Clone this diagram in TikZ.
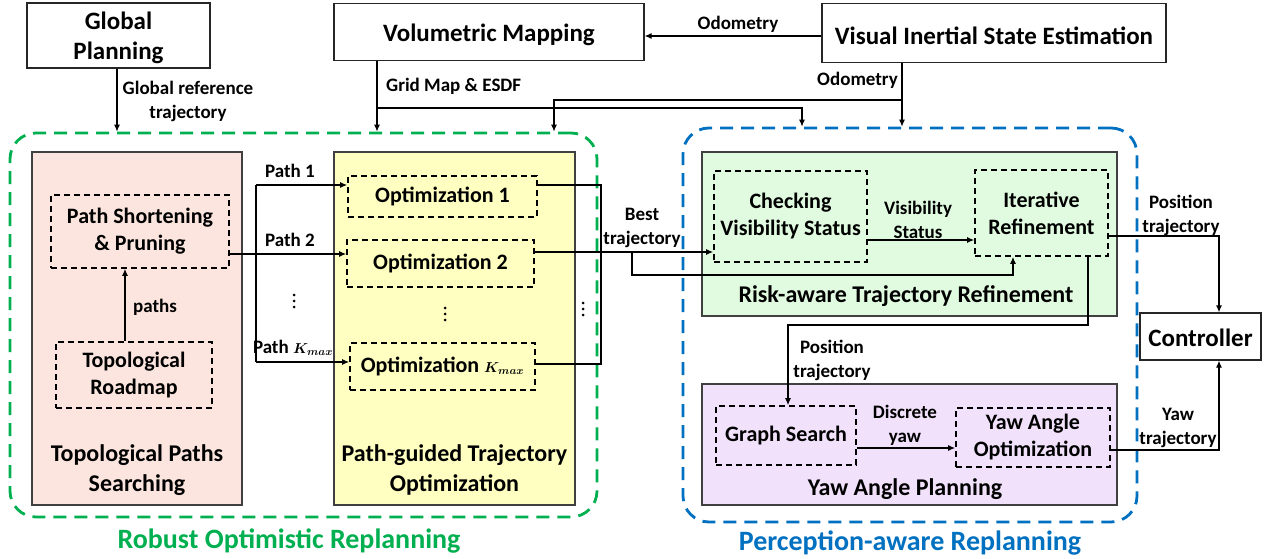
\documentclass[tikz,border=0pt]{standalone}
\usepackage{fontspec}
\usepackage{bm}
\setmainfont{Carlito}
\usetikzlibrary{arrows.meta}
\definecolor{gline}{HTML}{00B050}
\definecolor{bline}{HTML}{0070C0}
\definecolor{pinkf}{HTML}{FBE5DE}
\definecolor{yelf}{HTML}{FFFFC1}
\definecolor{grnf}{HTML}{E0FBE0}
\definecolor{purf}{HTML}{F2E1FA}
\newcommand{\kmax}{{\fontsize{15}{15}\selectfont$\bm{K_{max}}$}}
\begin{document}
\begin{tikzpicture}[x=1pt,y=-1pt,
  big/.style={font=\fontsize{25}{30}\selectfont\bfseries, align=center},
  ttl/.style={font=\fontsize{24}{30}\selectfont\bfseries, align=center},
  inn/.style={font=\fontsize{22}{27}\selectfont\bfseries, align=center},
  lbl/.style={font=\fontsize{19}{24}\selectfont\bfseries, align=center, inner sep=0pt},
  sbox/.style={draw=black!85, line width=1.3pt, inner sep=0pt},
  panel/.style={draw=black!75, line width=1.3pt, inner sep=0pt},
  dbox/.style={draw=black, line width=1.8pt, dash pattern=on 6pt off 4pt, inner sep=0pt},
  outer/.style={line width=2.8pt, dash pattern=on 13pt off 8pt, rounded corners=26pt, inner sep=0pt},
  arr/.style={line width=1.1pt, -{Latex[length=7pt,width=6pt]}},
  ln/.style={line width=1.1pt}]
\useasboundingbox (0,0) rectangle (1266,559);
\fill[white] (0,0) rectangle (1266,559);

% top boxes
\node[sbox, minimum width=183, minimum height=65] (gp) at (118.5,35.5) {};
\node[big] (gpt) at (118.5,38) {Global\\Planning};
\node[sbox, big, minimum width=310, minimum height=57] (vm) at (489,32) {\rule{0pt}{23.5pt}Volumetric Mapping};
\node[sbox, big, minimum width=344, minimum height=59] (vise) at (994,33) {\rule{0pt}{23.5pt}Visual Inertial State Estimation};

% outer dashed groups
\node[outer, draw=gline, minimum width=587, minimum height=384] (rob) at (303.5,325) {};
\node[outer, draw=bline, minimum width=454, minimum height=394] (per) at (910,325) {};
\node[font=\fontsize{28}{32}\selectfont\bfseries, text=gline] (robl) at (289,541) {Robust Optimistic Replanning};
\node[font=\fontsize{28}{32}\selectfont\bfseries, text=bline] (perl) at (910,543) {Perception-aware Replanning};

% panels
\node[panel, fill=pinkf, minimum width=210, minimum height=353] (pink) at (137,328.5) {};
\node[panel, fill=yelf, minimum width=241, minimum height=353] (yel) at (454.5,328.5) {};
\node[ttl] (pinkt) at (137,470) {Topological Paths\\Searching};
\node[ttl] (yelt) at (454.5,470) {Path-guided Trajectory\\Optimization};
\node[panel, fill=grnf, minimum width=415, minimum height=164] (risk) at (909.5,234) {};
\node[panel, fill=purf, minimum width=415, minimum height=121] (yap) at (909.5,444.5) {};
\node[ttl] (riskt) at (906,296) {Risk-aware Trajectory Refinement};
\node[ttl] (yapt) at (905,489) {Yaw Angle Planning};

% inner dashed boxes
\node[dbox, inn, minimum width=178, minimum height=73] (psp) at (140,231.5) {Path Shortening\\\& Pruning};
\node[dbox, inn, minimum width=156, minimum height=66] (trm) at (134,375) {Topological\\Roadmap};
\node[dbox, inn, minimum width=189, minimum height=41] (opt1) at (442.5,196.5) {Optimization 1};
\node[dbox, inn, minimum width=187, minimum height=47] (opt2) at (440.5,263.5) {Optimization 2};
\node[dbox, inn, minimum width=185, minimum height=47] (optk) at (442.5,366.5) {Optimization \kmax};
\node[dbox, inn, minimum width=153, minimum height=91] (cvs) at (790.5,216.5) {Checking\\Visibility Status};
\node[dbox, inn, minimum width=133, minimum height=86] (itr) at (1041.5,213) {Iterative\\Refinement};
\node[dbox, inn, minimum width=140, minimum height=59] (gs) at (786,435.5) {Graph Search};
\node[dbox, inn, minimum width=154, minimum height=59] (yao) at (1033,437.5) {Yaw Angle\\Optimization};
\node[sbox, big, minimum width=121, minimum height=47] (ctrl) at (1200.5,336.5) {\rule{0pt}{20pt}Controller};

% coordinates
\coordinate (odl) at (0,36);
\coordinate (gpx) at (117,0);
\coordinate (gm) at (377,108);
\coordinate (gmb) at (802,0);
\coordinate (od) at (902,100);
\coordinate (odg) at (554,0);
\coordinate (px) at (125,0);
\coordinate (pf) at (256,254);
\coordinate (p1) at (256,185);
\coordinate (pk) at (256,362);
\coordinate (rc) at (601,0);
\coordinate (pk2) at (0,364);
\coordinate (bt) at (0,252);
\coordinate (bb) at (632,275);
\coordinate (bx) at (1013,0);
\coordinate (vs) at (0,240);
\coordinate (pc) at (1219,236);
\coordinate (yc) at (1219,450);
\coordinate (pg) at (1088,325);
\coordinate (pg2) at (788,325);
\coordinate (dy) at (0,448);

% top connectors
\draw[arr] (vise.west |- odl) -- (vm.east |- odl);
\node[lbl] (l_od1) at (738,24) {Odometry};
\draw[arr] (gp.south -| gpx) -- (gpx |- rob.north);
\node[lbl] (l_gr) at (188,101) {Global reference\\trajectory};
\draw[ln] (vm.south -| gm) -- (gm);
\draw[arr] (gm) -- (gm |- rob.north);
\draw[arr] (gm) -| (gmb |- per.north);
\node[lbl, anchor=west] (l_gm) at (386,86) {Grid Map \& ESDF};
\draw[ln] (vise.south -| od) -- (od);
\draw[arr] (od) -- (od |- per.north);
\draw[arr] (od) -| (odg |- rob.north);
\node[lbl, anchor=east] (l_od2) at (898,80) {Odometry};

% left group
\draw[arr] (trm.north -| px) -- (psp.south -| px);
\node[lbl, anchor=west] (l_paths) at (133,307) {paths};
\draw[arr] (psp.east |- pf) -- (opt2.west |- pf);
\draw[ln] (p1) -- (pk);
\draw[arr] (p1) -- (opt1.west |- p1);
\draw[arr] (pk) -- (optk.west |- pk);
\node[lbl] (l_p1) at (290,171) {Path 1};
\node[lbl] (l_p2) at (290,240) {Path 2};
\node[lbl] (l_pk) at (293,348) {Path \kmax};
\draw[ln] (opt1.east |- p1) -| (rc |- pk2) -- (optk.east |- pk2);
\foreach \x/\y in {294/295, 445/308, 583/303}{
  \fill (\x,\y) circle (1.5pt);
  \fill (\x,\y+6) circle (1.5pt);
  \fill (\x,\y+12) circle (1.5pt);
}

% best trajectory
\draw[arr] (opt2.east |- bt) -- (cvs.west |- bt);
\node[lbl] (l_bt) at (642,228) {Best\\trajectory};
\draw[arr] (bb |- bt) -- (bb) -| (itr.south -| bx);

% right group
\draw[arr] (cvs.east |- vs) -- (itr.west |- vs);
\node[lbl] (l_vs) at (918,220) {Visibility\\Status};
\draw[arr] (itr.east |- pc) -| (ctrl.north -| pc);
\node[lbl] (l_pt1) at (1181,215) {Position\\trajectory};
\draw[arr] (yao.east |- yc) -| (ctrl.south -| yc);
\node[lbl] (l_yt) at (1178,428) {Yaw\\trajectory};
\draw[arr] (itr.south -| pg) -- (pg) -- (pg2) -- (gs.north -| pg2);
\node[lbl] (l_pt2) at (832,360) {Position\\trajectory};
\draw[arr] (gs.east |- dy) -- (yao.west |- dy);
\node[lbl] (l_dy) at (905,425) {Discrete\\yaw};
\end{tikzpicture}
\end{document}
